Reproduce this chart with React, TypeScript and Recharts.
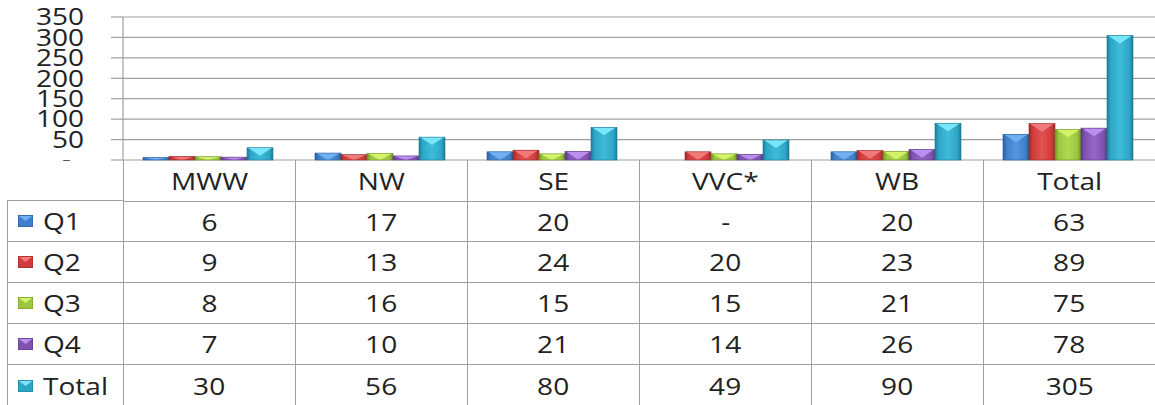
import React from 'react';
import { BarChart, Bar, XAxis, YAxis, CartesianGrid } from 'recharts';

// Data
const categories = ['MWW', 'NW', 'SE', 'VVC*', 'WB', 'Total'];
const q1 = [6, 17, 20, null, 20, 63];
const q2 = [9, 13, 24, 20, 23, 89];
const q3 = [8, 16, 15, 15, 21, 75];
const q4 = [7, 10, 21, 14, 26, 78];
const totals = [30, 56, 80, 49, 90, 305];
const seriesNames = ['Q1', 'Q2', 'Q3', 'Q4', 'Total'];
const yTicks = [0, 50, 100, 150, 200, 250, 300, 350];

const seriesValues = [q1, q2, q3, q4, totals];

// Office-style bevel colours, one per series
const barStyles = [
  { base: '#3f7fca', dark: '#2a5d9c', light: '#5596de', cap: '#6fb0f2' },
  { base: '#d13b3b', dark: '#9c2a2a', light: '#e05454', cap: '#f07a7a' },
  { base: '#9cc63e', dark: '#6f9228', light: '#b2d852', cap: '#d4f26a' },
  { base: '#8052b0', dark: '#5c3a84', light: '#9468c4', cap: '#bb8ff0' },
  { base: '#2ea6c6', dark: '#1d7c96', light: '#3fbcda', cap: '#7ae6fb' },
];

const data = categories.map((name, i) => {
  const row: Record<string, any> = { name };
  seriesNames.forEach((s, k) => {
    row[s] = seriesValues[k][i];
  });
  return row;
});

const FONT = '"Open Sans", "DejaVu Sans", sans-serif';
const TEXT = '#222';
const LINE = '#a0a0a0';
const STRETCH = 1.22;

const BevelBar = (props: any) => {
  const { x, y, width, height, idx } = props;
  if (x == null || !height || height <= 0) return null;
  const cap = Math.min(height, 8);
  return (
    <g>
      <rect x={x} y={y} width={width} height={height} fill={`url(#barGrad${idx})`} />
      <polygon
        points={`${x + 1},${y} ${x + width - 1},${y} ${x + width / 2},${y + cap}`}
        fill={barStyles[idx].cap}
      />
      <rect x={x} y={y} width={width} height={height} fill="none" stroke={barStyles[idx].dark} strokeWidth={0.6} />
    </g>
  );
};

const YTick = (props: any) => {
  const { x, y, payload } = props;
  const zero = payload.value === 0;
  return (
    <g transform={`translate(${zero ? x - 13 : x},${y}) scale(${STRETCH},1)`}>
      <text x={0} y={0} dy="0.36em" textAnchor="end" fill={TEXT} fontSize={23} fontFamily={FONT}>
        {zero ? '-' : payload.value}
      </text>
    </g>
  );
};

const LegendKey = ({ idx }: { idx: number }) => {
  const s = barStyles[idx];
  return (
    <svg width={15} height={12} style={{ display: 'block', flex: 'none' }}>
      <rect x={0} y={0} width={15} height={12} fill={s.base} stroke={s.dark} strokeWidth={1} />
      <polygon points="1,1 14,1 7.5,6" fill={s.cap} />
    </svg>
  );
};

const Stretched = ({ children, origin = 'center' }: { children: React.ReactNode; origin?: string }) => (
  <span style={{ display: 'inline-block', transform: `scaleX(${STRETCH})`, transformOrigin: origin }}>{children}</span>
);

const LEFT_W = 116;
const COL_W = 172;
const ROW_H = 41;

const cellBase: React.CSSProperties = {
  boxSizing: 'border-box',
  height: ROW_H,
  display: 'flex',
  alignItems: 'center',
  fontFamily: FONT,
  fontSize: 23,
  color: TEXT,
};

const DataTable = () => {
  const border = `1px solid ${LINE}`;
  return (
    <div
      style={{
        position: 'absolute',
        left: 7,
        top: 160,
        display: 'grid',
        gridTemplateColumns: `${LEFT_W}px repeat(${categories.length}, ${COL_W}px)`,
        gridAutoRows: `${ROW_H}px`,
      }}
    >
      {/* header row */}
      <div style={{ ...cellBase, borderBottom: border }} />
      {categories.map((c) => (
        <div key={c} style={{ ...cellBase, borderLeft: border, justifyContent: 'center' }}>
          <Stretched>{c}</Stretched>
        </div>
      ))}
      {/* series rows */}
      {seriesNames.map((s, k) => (
        <React.Fragment key={s}>
          <div
            style={{
              ...cellBase,
              borderLeft: border,
              borderBottom: k < seriesNames.length - 1 ? border : undefined,
              paddingLeft: 10,
            }}
          >
            <LegendKey idx={k} />
            <span style={{ marginLeft: 10 }}>
              <Stretched origin="left">{s}</Stretched>
            </span>
          </div>
          {seriesValues[k].map((v, i) => (
            <div
              key={i}
              style={{
                ...cellBase,
                borderLeft: border,
                borderTop: k === 0 ? border : undefined,
                borderBottom: k < seriesNames.length - 1 ? border : undefined,
                justifyContent: 'center',
              }}
            >
              <Stretched>{v == null ? '-' : v}</Stretched>
            </div>
          ))}
        </React.Fragment>
      ))}
    </div>
  );
};

export default function App() {
  return (
    <div style={{ position: 'absolute', left: 0, top: 0, width: 1155, height: 405, background: '#fff', overflow: 'hidden' }}>
      <BarChart
        width={1155}
        height={161}
        data={data}
        margin={{ top: 17, right: 0, bottom: 1, left: 0 }}
        barCategoryGap={20}
        barGap={0}
      >
        <defs>
          {barStyles.map((s, k) => (
            <linearGradient key={k} id={`barGrad${k}`} x1="0" y1="0" x2="1" y2="0">
              <stop offset="0%" stopColor={s.dark} />
              <stop offset="14%" stopColor={s.base} />
              <stop offset="50%" stopColor={s.light} />
              <stop offset="86%" stopColor={s.base} />
              <stop offset="100%" stopColor={s.dark} />
            </linearGradient>
          ))}
        </defs>
        <CartesianGrid vertical={false} stroke={LINE} strokeWidth={1.2} />
        <XAxis dataKey="name" hide height={0} />
        <YAxis
          width={123}
          domain={[0, 350]}
          ticks={yTicks}
          interval={0}
          tickSize={12}
          tickMargin={27}
          tickLine={{ stroke: LINE, strokeWidth: 1.2 }}
          axisLine={{ stroke: LINE, strokeWidth: 1.2 }}
          tick={<YTick />}
        />
        {seriesNames.map((s, k) => (
          <Bar
            key={s}
            dataKey={s}
            isAnimationActive={false}
            fill={barStyles[k].base}
            shape={(p: any) => <BevelBar {...p} idx={k} />}
          />
        ))}
      </BarChart>
      <DataTable />
    </div>
  );
}
